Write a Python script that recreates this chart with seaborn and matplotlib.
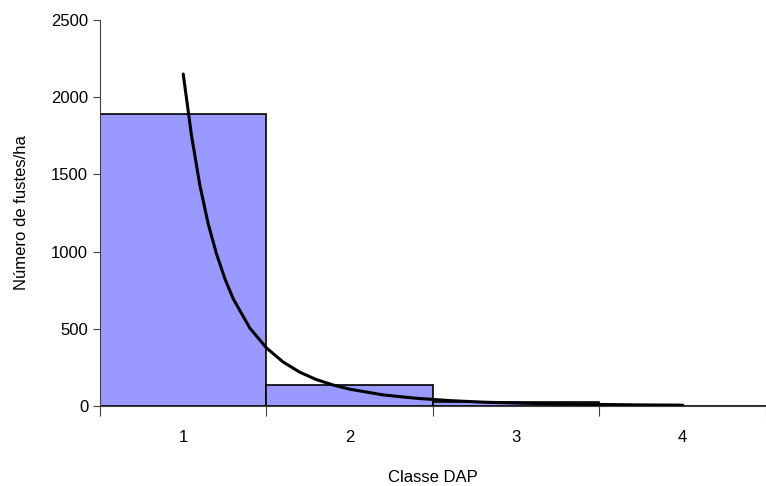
import numpy as np
import pandas as pd
import matplotlib
matplotlib.use("Agg")
import matplotlib.pyplot as plt
import seaborn as sns

# Bars: number of stems per hectare by DAP class
classes = ["1", "2", "3", "4"]
fustes = [1890, 138, 26, 3]

# Trend curve (class value, stems/ha)
curve_x = [1.0, 1.05, 1.1, 1.15, 1.2, 1.25, 1.3, 1.4, 1.5, 1.6, 1.7, 1.8, 1.9,
           2.0, 2.2, 2.4, 2.6, 2.8, 3.0, 3.25, 3.5, 3.75, 4.0]
curve_y = [2150, 1750, 1430, 1180, 985, 825, 695, 505, 376, 285, 219, 171, 136,
           109, 72, 50, 35, 25, 19, 13, 10, 7, 5.5]

sns.set_style("white")
plt.rcParams['font.family'] = ['Liberation Sans', 'DejaVu Sans']
plt.rcParams['text.color'] = 'black'
plt.rcParams['axes.labelcolor'] = 'black'
plt.rcParams['xtick.color'] = 'black'
plt.rcParams['ytick.color'] = 'black'

df = pd.DataFrame({"Classe": classes, "Fustes": fustes})

fig = plt.figure(figsize=(7.66, 4.86), dpi=100)
ax = fig.add_axes([0.1305, 0.1646, 0.8695, 0.7942])

sns.barplot(data=df, x="Classe", y="Fustes", color="#9999FF", width=1.0,
            edgecolor="black", linewidth=1.2, saturation=1, ax=ax)
ax.plot(np.array(curve_x) - 1, curve_y, color="black", linewidth=2.2)

ax.set_xlim(-0.5, 3.5)
ax.set_ylim(0, 2500)
ax.set_yticks(range(0, 2501, 500))

# tick marks between classes, labels at class centres
ax.set_xticks(np.arange(-0.5, 3.6, 1.0))
ax.set_xticklabels([])
ax.set_xticks(range(len(classes)), minor=True)
ax.set_xticklabels(classes, minor=True)
ax.tick_params(axis="x", which="major", length=7, width=0.8, color="#404040", direction="out", bottom=True)
ax.tick_params(axis="x", which="minor", length=0, pad=17, labelsize=12)
ax.tick_params(axis="y", length=5, width=0.8, color="#404040", direction="out", left=True, labelsize=12)

for s in ["top", "right"]:
    ax.spines[s].set_visible(False)
for s in ["left", "bottom"]:
    ax.spines[s].set_color("#404040")
    ax.spines[s].set_linewidth(0.8)

ax.set_xlabel("Classe DAP", fontsize=12, labelpad=18)
ax.set_ylabel("Número de fustes/ha", fontsize=12, labelpad=16)

fig.savefig("out.png", dpi=100)
